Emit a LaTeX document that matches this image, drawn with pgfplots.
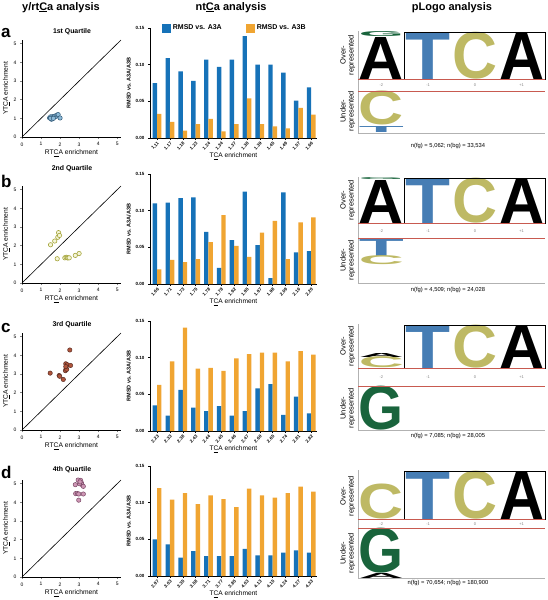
\documentclass[border=0pt]{standalone}
\usepackage{pgfplots}
\pgfplotsset{compat=1.18}
\usepackage{fontspec}
\setmainfont{Liberation Sans}
\usepackage{graphicx}
\definecolor{barblue}{RGB}{22,114,184}
\definecolor{barorange}{RGB}{240,165,50}
\definecolor{logoT}{RGB}{70,125,180}
\definecolor{logoC}{RGB}{190,185,100}
\definecolor{logoG}{RGB}{25,100,60}
\definecolor{redline}{RGB}{200,90,80}
\definecolor{sAf}{RGB}{140,185,215}\definecolor{sAd}{RGB}{50,90,120}
\definecolor{sBf}{RGB}{245,245,215}\definecolor{sBd}{RGB}{165,165,60}
\definecolor{sCf}{RGB}{175,85,60}\definecolor{sCd}{RGB}{90,45,35}
\definecolor{sDf}{RGB}{205,150,180}\definecolor{sDd}{RGB}{120,70,100}
\newcommand{\fs}[1]{\fontsize{#1}{#1}\selectfont}
\newcommand{\LL}[5]{\node[anchor=south, inner sep=0pt, outer sep=0pt] at (axis cs:#1,-#2) {\resizebox*{45pt}{#3pt}{\textcolor{#5}{\bfseries #4}}};}
\newcommand{\PL}[1]{%
 \node[font=\fs{4}, text=gray, inner sep=0.3pt] at (axis cs:-2,-#1) {-2};
 \node[font=\fs{4}, text=gray, inner sep=0.3pt] at (axis cs:-1,-#1) {-1};
 \node[font=\fs{4}, text=gray, inner sep=0.3pt] at (axis cs:0,-#1) {0};
 \node[font=\fs{4}, text=gray, inner sep=0.3pt] at (axis cs:1,-#1) {+1};}
\pgfplotsset{
 barax/.style={scale only axis, width=167pt, height=110pt, anchor=south west,
  xmin=-0.55, xmax=12.45, ymin=0, ymax=0.15,
  axis lines=left, axis line style={-, line width=0.6pt},
  ybar=0pt, bar width=4.4pt, xtick={0,...,12}, ytick={0,0.05,0.1,0.15},
  /pgf/number format/assume math mode=true,
  yticklabel style={/pgf/number format/fixed, /pgf/number format/fixed zerofill, /pgf/number format/precision=2, font=\bfseries\fs{4.5}},
  x tick label style={rotate=45, anchor=north east, font=\bfseries\fs{4.5}, inner sep=1pt},
  tick style={black, line width=0.4pt}, tick align=outside, major tick length=2pt,
  xlabel={T\underline{C}A enrichment}, xlabel style={font=\fs{6.6}, yshift=2pt},
  ylabel={RMSD vs. A3A/A3B}, ylabel style={font=\bfseries\fs{5.5}, yshift=-2pt}},
 scat/.style={scale only axis, width=99pt, height=97pt, anchor=south west,
  xmin=0, xmax=5.2, ymin=0, ymax=5.2, axis lines=left, axis line style={-, line width=0.6pt},
  xtick={0,...,5}, ytick={0,...,5}, tick label style={font=\fs{5}},
  tick align=outside, major tick length=2pt, tick style={gray, line width=0.6pt},
  /pgf/number format/assume math mode=true,
  xlabel={RT\underline{C}A enrichment}, ylabel={YT\underline{C}A enrichment},
  label style={font=\fs{6.7}}, xlabel style={yshift=3pt}, ylabel style={yshift=-3pt}, clip=false},
 bb/.style={fill=barblue, draw=none},
 bo/.style={fill=barorange, draw=none},
}
\begin{document}
\begin{tikzpicture}
\useasboundingbox (0,0) rectangle (548pt,-600pt);
% column titles
\node[anchor=base, font=\bfseries\fs{11}] at (61pt,-10pt) {y/rt\underline{C}a analysis};
\node[anchor=base, font=\bfseries\fs{11}] at (231pt,-10pt) {nt\underline{C}a analysis};
\node[anchor=base, font=\bfseries\fs{11}] at (452pt,-10pt) {pLogo analysis};
% panel letters
\node[anchor=base west, font=\bfseries\fs{17}, inner sep=0pt] at (1pt,-37pt) {a};
\node[anchor=base west, font=\bfseries\fs{17}, inner sep=0pt] at (1pt,-187pt) {b};
\node[anchor=base west, font=\bfseries\fs{17}, inner sep=0pt] at (1pt,-332pt) {c};
\node[anchor=base west, font=\bfseries\fs{17}, inner sep=0pt] at (1pt,-478pt) {d};
% quartile titles
\node[font=\bfseries\fs{6.9}] at (72pt,-32pt) {1st Quartile};
\node[font=\bfseries\fs{6.9}] at (72pt,-169pt) {2nd Quartile};
\node[font=\bfseries\fs{6.9}] at (72pt,-325pt) {3rd Quartile};
\node[font=\bfseries\fs{6.9}] at (72pt,-470pt) {4th Quartile};

% ---------- scatter panels ----------
\begin{axis}[scat, at={(22pt,-137pt)}]
\addplot[only marks, mark=*, mark size=2.2pt, mark options={fill=sAf, draw=sAd, line width=0.5pt}] coordinates {
(1.45,1.02) (1.5,1.08) (1.55,0.95) (1.6,1.05) (1.62,1.1) (1.68,1.08) (1.72,1.12) (1.78,1.1) (1.85,1.18) (1.9,1.2) (2.0,1.02) (1.5,1.0) (1.65,1.0)};
\addplot[black, line width=0.6pt, no marks] coordinates {(0,0) (5.2,5.2)};
\end{axis}
\begin{axis}[scat, at={(22pt,-283pt)}]
\addplot[only marks, mark=*, mark size=2.2pt, mark options={fill=sBf, draw=sBd, line width=0.6pt}] coordinates {
(1.5,2.05) (1.72,2.25) (1.88,2.45) (1.92,2.7) (1.97,2.55) (1.85,1.3) (2.25,1.35) (2.32,1.38) (2.38,1.35) (2.42,1.35) (2.48,1.35) (2.8,1.48) (3.0,1.58)};
\addplot[black, line width=0.6pt, no marks] coordinates {(0,0) (5.2,5.2)};
\end{axis}
\begin{axis}[scat, at={(22pt,-430pt)}]
\addplot[only marks, mark=*, mark size=2.2pt, mark options={fill=sCf, draw=sCd, line width=0.5pt}] coordinates {
(1.48,3.05) (1.95,2.92) (1.98,2.88) (2.17,2.71) (2.28,3.18) (2.32,3.3) (2.35,3.25) (2.33,3.48) (2.3,3.55) (2.38,3.5) (2.55,3.46) (2.51,4.29) (2.3,3.4)};
\addplot[black, line width=0.6pt, no marks] coordinates {(0,0) (5.2,5.2)};
\end{axis}
\begin{axis}[scat, at={(22pt,-577pt)}]
\addplot[only marks, mark=*, mark size=2.2pt, mark options={fill=sDf, draw=sDd, line width=0.5pt}] coordinates {
(2.95,5.2) (3.08,5.18) (3.12,5.05) (3.15,4.95) (3.22,4.86) (2.8,4.95) (3.02,5.0) (2.82,4.47) (2.92,4.47) (2.98,4.45) (3.22,4.45) (2.98,4.12) (3.05,5.1)};
\addplot[black, line width=0.6pt, no marks] coordinates {(0,0) (5.2,5.2)};
\end{axis}

% ---------- bar panels ----------
\begin{axis}[barax, at={(150pt,-138pt)},
  xticklabels={1.11,1.17,1.18,1.23,1.24,1.34,1.37,1.38,1.39,1.45,1.49,1.57,1.66},
  legend style={at={(0.07,1)}, anchor=west, draw=none, fill=none, legend columns=2,
    font=\bfseries\fs{7}, inner sep=0pt, /tikz/every even column/.append style={column sep=22pt}},
  legend image code/.code={\fill[#1] (0pt,-4.5pt) rectangle (9pt,4.5pt);}]
\addplot[bb] coordinates {(0,0.075) (1,0.109) (2,0.091) (3,0.078) (4,0.107) (5,0.097) (6,0.107) (7,0.139) (8,0.100) (9,0.100) (10,0.089) (11,0.051) (12,0.069)};
\addplot[bo] coordinates {(0,0.033) (1,0.022) (2,0.010) (3,0.019) (4,0.026) (5,0.009) (6,0.019) (7,0.054) (8,0.019) (9,0.016) (10,0.013) (11,0.041) (12,0.032)};
\legend{RMSD vs. A3A, RMSD vs. A3B}
\end{axis}
\begin{axis}[barax, at={(150pt,-284pt)},
  xticklabels={1.66,1.71,1.73,1.75,1.78,1.78,1.92,1.95,1.97,1.98,2.09,2.16,2.20}]
\addplot[bb] coordinates {(0,0.110) (1,0.111) (2,0.117) (3,0.118) (4,0.071) (5,0.022) (6,0.060) (7,0.126) (8,0.053) (9,0.008) (10,0.125) (11,0.043) (12,0.045)};
\addplot[bo] coordinates {(0,0.020) (1,0.033) (2,0.030) (3,0.034) (4,0.057) (5,0.094) (6,0.052) (7,0.037) (8,0.070) (9,0.086) (10,0.034) (11,0.084) (12,0.091)};
\end{axis}
\begin{axis}[barax, at={(150pt,-431pt)},
  xticklabels={2.23,2.33,2.38,2.43,2.44,2.45,2.46,2.47,2.60,2.65,2.74,2.81,2.82}]
\addplot[bb] coordinates {(0,0.035) (1,0.021) (2,0.056) (3,0.032) (4,0.027) (5,0.034) (6,0.021) (7,0.027) (8,0.058) (9,0.064) (10,0.022) (11,0.047) (12,0.024)};
\addplot[bo] coordinates {(0,0.063) (1,0.095) (2,0.141) (3,0.085) (4,0.086) (5,0.082) (6,0.099) (7,0.105) (8,0.107) (9,0.107) (10,0.095) (11,0.109) (12,0.104)};
\end{axis}
\begin{axis}[barax, at={(150pt,-576pt)},
  xticklabels={2.97,3.03,3.35,3.58,3.71,3.77,3.85,4.03,4.13,4.15,4.24,4.27,4.33}]
\addplot[bb] coordinates {(0,0.050) (1,0.043) (2,0.025) (3,0.034) (4,0.027) (5,0.027) (6,0.027) (7,0.037) (8,0.028) (9,0.028) (10,0.032) (11,0.035) (12,0.032)};
\addplot[bo] coordinates {(0,0.120) (1,0.104) (2,0.113) (3,0.098) (4,0.110) (5,0.105) (6,0.094) (7,0.119) (8,0.110) (9,0.107) (10,0.113) (11,0.122) (12,0.115)};
\end{axis}

% ---------- pLogo column ----------
\begin{axis}[scale only axis, width=187pt, height=600pt, at={(358pt,-600pt)}, anchor=south west,
  xmin=-2.5, xmax=1.5, ymin=-600, ymax=0, hide axis, clip=false]
% panel a
\draw[gray!60, line width=0.5pt] (axis cs:-2.5,-31) -- (axis cs:-2.5,-133) -- (axis cs:1.5,-133);
\LL{-2}{79}{42}{A}{black}
\LL{-2}{37}{5}{G}{logoG}
\LL{-1}{79}{47}{T}{logoT}
\LL{0}{79}{47}{C}{logoC}
\LL{1}{79}{47}{A}{black}
\LL{-2}{125}{34}{C}{logoC}
\LL{-2}{132}{6}{T}{logoT}
\draw[black, line width=0.8pt] (axis cs:-1.5,-32) rectangle (axis cs:1.5,-79);
\draw[redline, line width=0.6pt] (axis cs:-2.5,-79) -- (axis cs:1.5,-79);
\draw[redline, line width=0.6pt] (axis cs:-2.5,-91) -- (axis cs:1.5,-91);
\PL{85.5}
\node[rotate=90, align=center, font=\fontsize{7.5}{8}\selectfont] at (axis cs:-2.72,-55) {Over-\\represented};
\node[rotate=90, align=center, font=\fontsize{7.5}{8}\selectfont] at (axis cs:-2.72,-111) {Under-\\represented};
\node[font=\fs{5.8}] at (axis cs:-0.575,-146) {n(fg) = 5,062; n(bg) = 33,534};
% panel b
\draw[gray!60, line width=0.5pt] (axis cs:-2.5,-177) -- (axis cs:-2.5,-283) -- (axis cs:1.5,-283);
\LL{-2}{223}{43}{A}{black}
\LL{-2}{180}{2}{G}{logoG}
\LL{-1}{223}{45}{T}{logoT}
\LL{0}{223}{45}{C}{logoC}
\LL{1}{223}{45}{A}{black}
\LL{-2}{256}{18}{T}{logoT}
\LL{-2}{265}{9}{C}{logoC}
\draw[black, line width=0.8pt] (axis cs:-1.5,-178) rectangle (axis cs:1.5,-223);
\draw[redline, line width=0.6pt] (axis cs:-2.5,-223) -- (axis cs:1.5,-223);
\draw[redline, line width=0.6pt] (axis cs:-2.5,-238) -- (axis cs:1.5,-238);
\PL{231}
\node[rotate=90, align=center, font=\fontsize{7.5}{8}\selectfont] at (axis cs:-2.72,-200) {Over-\\represented};
\node[rotate=90, align=center, font=\fontsize{7.5}{8}\selectfont] at (axis cs:-2.72,-260) {Under-\\represented};
\node[font=\fs{5.8}] at (axis cs:-0.575,-290) {n(fg) = 4,509; n(bg) = 24,028};
% panel c
\draw[gray!60, line width=0.5pt] (axis cs:-2.5,-324) -- (axis cs:-2.5,-430) -- (axis cs:1.5,-430);
\LL{-2}{368}{11}{C}{logoC}
\LL{-2}{357}{4}{A}{black}
\LL{-1}{368}{43}{T}{logoT}
\LL{0}{368}{43}{C}{logoC}
\LL{1}{368}{43}{A}{black}
\LL{-2}{430}{44}{G}{logoG}
\draw[black, line width=0.8pt] (axis cs:-1.5,-325) rectangle (axis cs:1.5,-368);
\draw[redline, line width=0.6pt] (axis cs:-2.5,-368) -- (axis cs:1.5,-368);
\draw[redline, line width=0.6pt] (axis cs:-2.5,-386) -- (axis cs:1.5,-386);
\PL{377}
\node[rotate=90, align=center, font=\fontsize{7.5}{8}\selectfont] at (axis cs:-2.72,-346) {Over-\\represented};
\node[rotate=90, align=center, font=\fontsize{7.5}{8}\selectfont] at (axis cs:-2.72,-408) {Under-\\represented};
\node[font=\fs{5.8}] at (axis cs:-0.575,-436) {n(fg) = 7,085; n(bg) = 28,005};
% panel d
\draw[gray!60, line width=0.5pt] (axis cs:-2.5,-470) -- (axis cs:-2.5,-578) -- (axis cs:1.5,-578);
\LL{-2}{519}{35}{C}{logoC}
\LL{-1}{519}{48}{T}{logoT}
\LL{0}{519}{48}{C}{logoC}
\LL{1}{519}{48}{A}{black}
\LL{-2}{573}{45}{G}{logoG}
\LL{-2}{578}{5}{A}{black}
\draw[black, line width=0.8pt] (axis cs:-1.5,-471) rectangle (axis cs:1.5,-519);
\draw[redline, line width=0.6pt] (axis cs:-2.5,-519) -- (axis cs:1.5,-519);
\draw[redline, line width=0.6pt] (axis cs:-2.5,-528) -- (axis cs:1.5,-528);
\PL{524}
\node[rotate=90, align=center, font=\fontsize{7.5}{8}\selectfont] at (axis cs:-2.72,-496) {Over-\\represented};
\node[rotate=90, align=center, font=\fontsize{7.5}{8}\selectfont] at (axis cs:-2.72,-553) {Under-\\represented};
\node[font=\fs{5.8}] at (axis cs:-0.575,-583) {n(fg) = 70,654; n(bg) = 180,900};
\end{axis}
\end{tikzpicture}
\end{document}
